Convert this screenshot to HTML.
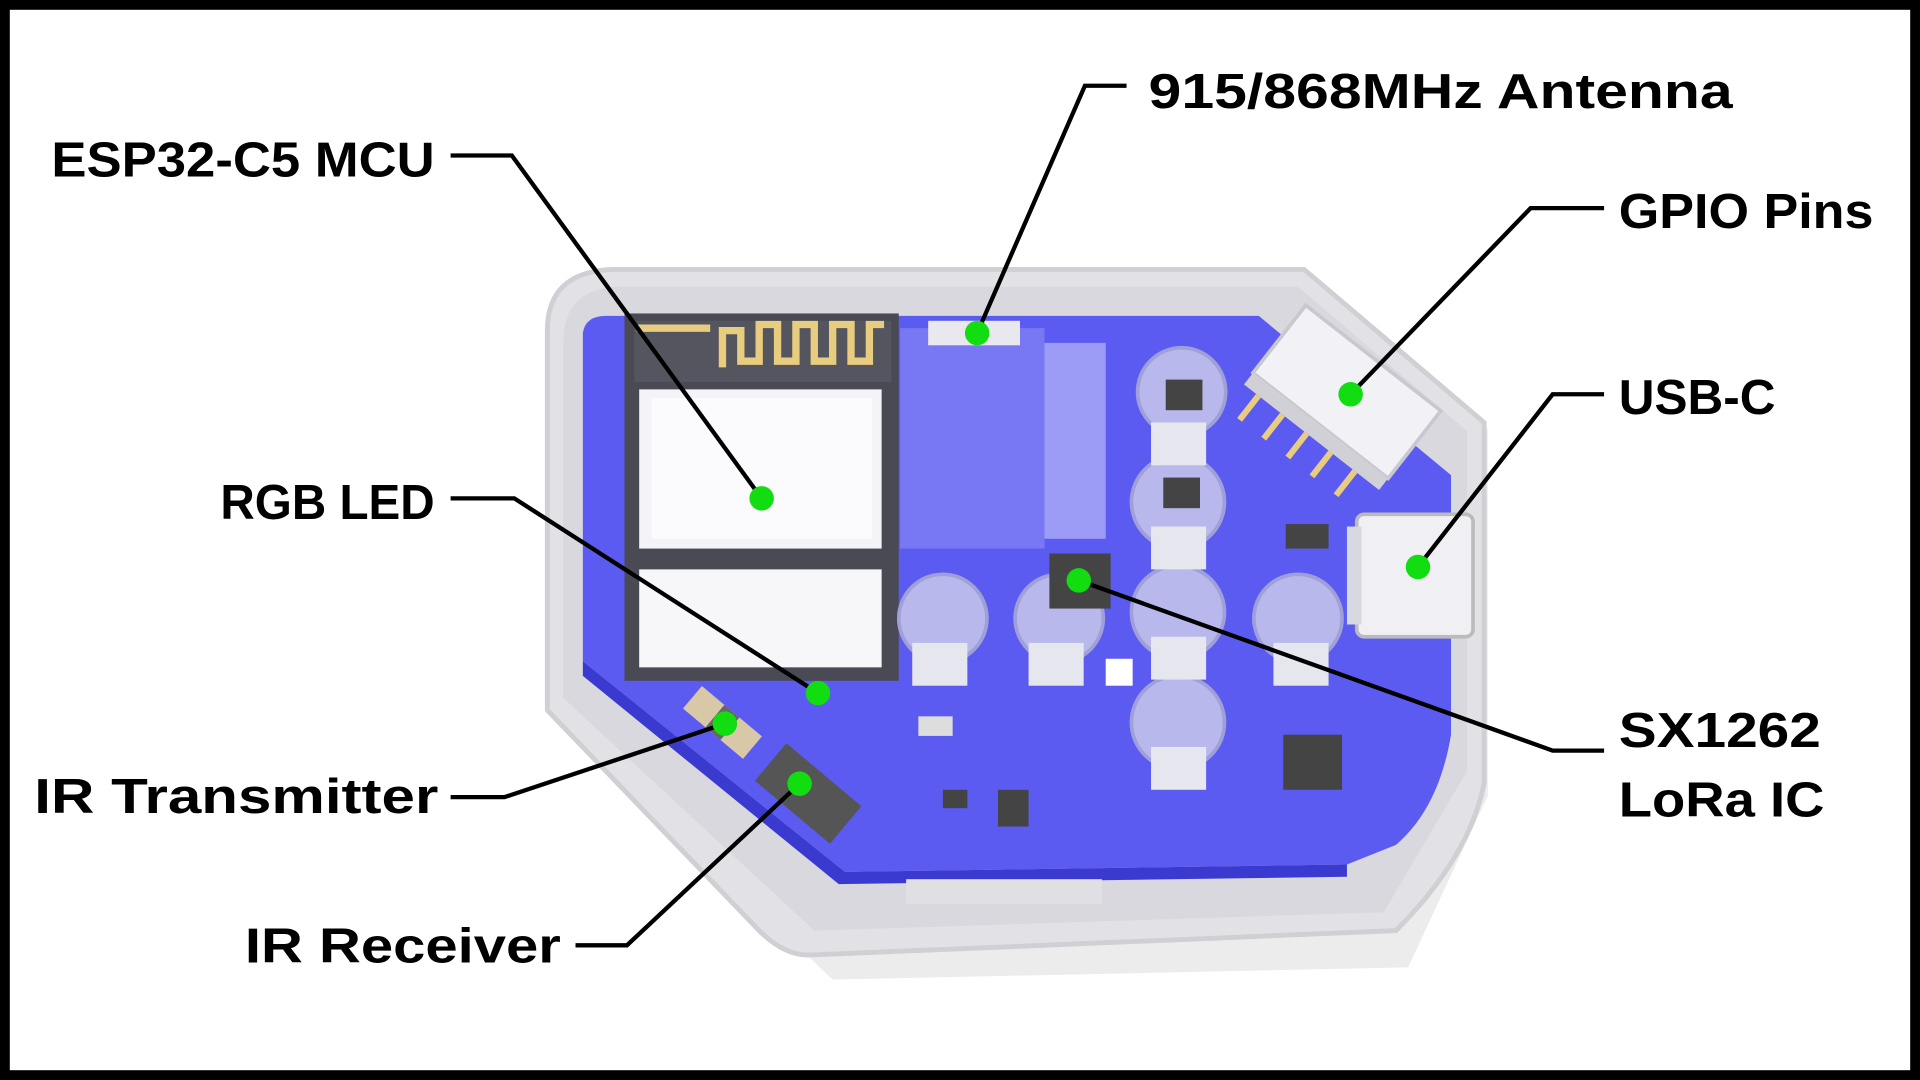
<!DOCTYPE html>
<html><head><meta charset="utf-8"><style>
html,body{margin:0;padding:0;background:#fff;width:1920px;height:1080px;overflow:hidden}
svg{display:block}
text{font-family:"Liberation Sans",sans-serif;font-weight:bold;font-size:40px;fill:#000}
</style></head><body>
<svg width="1920" height="1080" viewBox="0 0 1568 882" preserveAspectRatio="none">
<rect x="0" y="0" width="1568" height="882" fill="#000"/>
<rect x="8" y="8" width="1552" height="866" fill="#fff"/>
<path d="M470,250 L1080,245 L1215,350 L1215,650 L1150,790 L680,800 L460,590 Z" fill="#ececec"/>
<path d="M447,270 Q447,222 500,220 L1065,220 L1212,345 L1212,640 Q1200,700 1140,760 L660,780 Q640,780 620,760 L447,580 Z" fill="#e2e2e6" stroke="#cfcfd4" stroke-width="4"/>
<path d="M460,280 Q460,236 505,234 L1060,234 L1198,352 L1198,630 L1130,745 L665,760 L460,570 Z" fill="#d8d8de"/>
<path d="M476,272 Q478,258 495,258 L1028,258 L1185,388 L1185,600 Q1175,660 1140,690 L1100,706 L690,712 L476,540 Z" fill="#5b5bf2"/>
<path d="M476,540 L690,712 L1100,706 L1100,716 L685,722 L476,552 Z" fill="#3a3ad0"/>
<rect x="510" y="256" width="224" height="300" fill="#4a4a55"/>
<rect x="518" y="262" width="210" height="50" fill="#55555f"/>
<path d="M520,268 L580,268 M590,300 L590,270 L605,270 L605,295 L620,295 L620,265 L635,265 L635,295 L650,295 L650,265 L665,265 L665,295 L680,295 L680,265 L695,265 L695,295 L710,295 L710,265 L722,265" stroke="#e8cc80" stroke-width="6" fill="none"/>
<rect x="522" y="318" width="198" height="130" fill="#f4f4f8"/>
<rect x="532" y="325" width="180" height="115" fill="#fbfbfd"/>
<rect x="522" y="465" width="198" height="80" fill="#f7f7fa"/>
<rect x="735" y="268" width="118" height="180" fill="#7878f4"/>
<rect x="853" y="280" width="50" height="160" fill="#9c9cf6"/>
<rect x="758" y="262" width="75" height="20" fill="#e8e8ee"/>
<g transform="translate(1100,320) rotate(38)">
<rect x="-70" y="-35" width="140" height="70" fill="#f2f2f6" stroke="#c8c8d0" stroke-width="3"/>
<rect x="-70" y="35" width="140" height="12" fill="#d0d0d6"/>
<path d="M-55,47 v25 M-30,47 v25 M-5,47 v25 M20,47 v25 M45,47 v25" stroke="#e8cc80" stroke-width="5"/>
</g>
<rect x="1108" y="420" width="95" height="100" rx="6" fill="#f0f0f4" stroke="#bbb" stroke-width="3"/>
<rect x="1100" y="430" width="12" height="80" fill="#d8d8e0"/>
<g fill="#b8b8ec" stroke="#a0a0d8" stroke-width="3">
<circle cx="965" cy="320" r="36"/><circle cx="962" cy="410" r="38"/><circle cx="962" cy="500" r="38"/><circle cx="962" cy="590" r="38"/>
<circle cx="770" cy="505" r="36"/><circle cx="865" cy="505" r="36"/><circle cx="1060" cy="505" r="36"/>
</g>
<g fill="#e6e6ef">
<rect x="940" y="345" width="45" height="35"/><rect x="940" y="430" width="45" height="35"/><rect x="940" y="520" width="45" height="35"/><rect x="940" y="610" width="45" height="35"/>
<rect x="745" y="525" width="45" height="35"/><rect x="840" y="525" width="45" height="35"/><rect x="1040" y="525" width="45" height="35"/>
</g>
<g fill="#444">
<rect x="857" y="452" width="50" height="45"/><rect x="1048" y="600" width="48" height="45"/><rect x="952" y="310" width="30" height="25"/><rect x="950" y="390" width="30" height="25"/><rect x="1050" y="428" width="35" height="20"/>
<rect x="770" y="645" width="20" height="15"/><rect x="815" y="645" width="25" height="30"/>
</g>
<rect x="903" y="538" width="22" height="22" fill="#fff"/>
<rect x="750" y="585" width="28" height="16" fill="#ddd"/>
<g transform="translate(590,590) rotate(40)"><rect x="-32" y="-12" width="64" height="24" fill="#d8c8a8"/><rect x="-8" y="-12" width="16" height="24" fill="#666"/></g>
<g transform="translate(660,648) rotate(40)"><rect x="-40" y="-20" width="80" height="40" fill="#555"/></g>
<rect x="740" y="718" width="160" height="20" fill="#e0e0e4"/>
<g stroke="#000" stroke-width="3.5" fill="none">
<polyline points="368,127 418,127 622,407"/>
<polyline points="920,70 886,70 798,272"/>
<polyline points="1310,170 1250,170 1103,322"/>
<polyline points="1310,322 1268,322 1158,463"/>
<polyline points="1310,613 1268,613 881,474"/>
<polyline points="368,407 420,407 668,566"/>
<polyline points="368,651 412,651 592,591"/>
<polyline points="470,772 512,772 653,640"/>
</g>
<g fill="#11dd11">
<circle cx="622" cy="407" r="10"/><circle cx="798" cy="272" r="10"/><circle cx="1103" cy="322" r="10"/><circle cx="1158" cy="463" r="10"/>
<circle cx="881" cy="474" r="10"/><circle cx="668" cy="566" r="10"/><circle cx="592" cy="591" r="10"/><circle cx="653" cy="640" r="10"/>
</g>
<text x="42" y="144" textLength="313" lengthAdjust="spacingAndGlyphs">ESP32-C5 MCU</text>
<text x="938" y="88" textLength="477" lengthAdjust="spacingAndGlyphs">915/868MHz Antenna</text>
<text x="1322" y="186" textLength="208" lengthAdjust="spacingAndGlyphs">GPIO Pins</text>
<text x="1322" y="338" textLength="128" lengthAdjust="spacingAndGlyphs">USB-C</text>
<text x="1322" y="610" textLength="165" lengthAdjust="spacingAndGlyphs">SX1262</text>
<text x="1322" y="667" textLength="168" lengthAdjust="spacingAndGlyphs">LoRa IC</text>
<text x="180" y="424" textLength="175" lengthAdjust="spacingAndGlyphs">RGB LED</text>
<text x="28" y="664" textLength="330" lengthAdjust="spacingAndGlyphs">IR Transmitter</text>
<text x="200" y="786" textLength="258" lengthAdjust="spacingAndGlyphs">IR Receiver</text>
</svg>
</body></html>
